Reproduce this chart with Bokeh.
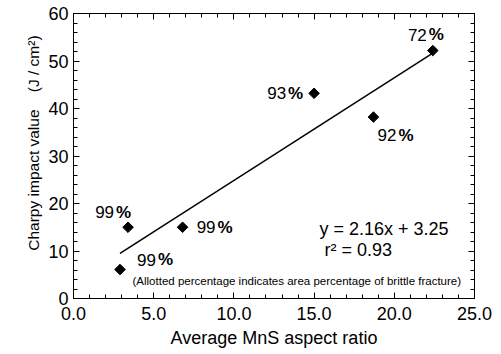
import math
from bokeh.plotting import figure
from bokeh.models import (ColumnDataSource, LinearAxis, SingleIntervalTicker,
                          NumeralTickFormatter, Range1d, Label,
                          CustomJSTickFormatter)
from bokeh.embed import file_html
from bokeh.resources import INLINE
from bokeh.core.properties import value

# ---- data ----
aspect_ratio = [2.9, 3.4, 6.8, 15.0, 18.7, 22.4]
charpy = [6.1, 15.0, 15.0, 43.2, 38.2, 52.2]
brittle_pct = ["99", "99", "99", "93", "92", "72"]
slope = 2.16
intercept = 3.25
r_squared = 0.93
x_label = "Average MnS aspect ratio"
NB = "\u00a0"
y_label = NB * 6 + "Charpy impact value" + NB * 4 + "(J / cm\u00b2)"
note = "(Allotted percentage indicates area percentage of brittle fracture)"

# label placement (pixels, styling only)
lab_dx = [36, -14, 33, -28, 23, -6]
lab_dy = [-10, -15, 0, 0, 18, -16]

FONT = "Liberation Sans"

p = figure(width=501, height=354, output_backend="svg", toolbar_location=None,
           x_range=Range1d(0, 25), y_range=Range1d(0, 60),
           min_border_left=73, min_border_right=27, min_border_top=13,
           min_border_bottom=56, background_fill_color="white",
           border_fill_color="white")
p.grid.visible = False
p.outline_line_color = "black"
p.outline_line_width = 1

def style(ax, ticker):
    ax.ticker = ticker
    ax.major_tick_in = 6
    ax.major_tick_out = 0
    ax.minor_tick_in = 4
    ax.minor_tick_out = 0
    ax.axis_line_color = "black"
    ax.major_tick_line_color = "black"
    ax.minor_tick_line_color = "black"
    ax.major_label_text_font = FONT
    ax.major_label_text_font_size = "18px"
    ax.major_label_text_color = "black"
    ax.axis_label_text_font = FONT
    ax.axis_label_text_font_style = "normal"
    ax.axis_label_text_color = "black"

xa = p.xaxis[0]
ya = p.yaxis[0]
style(xa, SingleIntervalTicker(interval=5, num_minor_ticks=5))
style(ya, SingleIntervalTicker(interval=10, num_minor_ticks=5))
xa.formatter = NumeralTickFormatter(format="0.0")
xa.axis_label = x_label
xa.axis_label_text_font_size = "18px"
xa.major_label_standoff = 8
xa.axis_label_standoff = 5
ya.axis_label = y_label
ya.axis_label_text_font_size = "15.5px"
ya.major_label_standoff = 5
ya.axis_label_standoff = 3

# mirrored tick axes on top and right, without labels
top = LinearAxis()
right = LinearAxis()
style(top, SingleIntervalTicker(interval=5, num_minor_ticks=5))
style(right, SingleIntervalTicker(interval=10, num_minor_ticks=5))
for a in (top, right):
    a.formatter = CustomJSTickFormatter(code="return ''")
    a.major_label_standoff = 0
p.add_layout(top, "above")
p.add_layout(right, "right")

# regression line
x0, x1 = min(aspect_ratio), max(aspect_ratio)
p.line([x0, x1], [slope * x0 + intercept, slope * x1 + intercept],
       line_color="black", line_width=1.5)

src = ColumnDataSource(dict(x=aspect_ratio, y=charpy, num=brittle_pct,
                            pc=["%"] * len(brittle_pct),
                            dx=lab_dx, dy=lab_dy,
                            dx2=[d + 2 for d in lab_dx]))
p.scatter("x", "y", source=src, marker="square", size=7.5,
          angle=math.pi / 4, fill_color="black", line_color="black")

p.text("x", "y", text="num", source=src, x_offset="dx", y_offset="dy",
       text_align="right", text_baseline="middle",
       text_font=value(FONT), text_font_size="17px", text_color="black")
p.text("x", "y", text="pc", source=src, x_offset="dx2", y_offset="dy",
       text_align="left", text_baseline="middle",
       text_font=value(FONT), text_font_size="17px", text_font_style="bold",
       text_color="black")

# annotation labels (screen units are relative to the plot frame)
eq = f"y = {slope:.2f}x + {intercept:.2f}"
p.add_layout(Label(x=246, y=70, x_units="screen", y_units="screen",
                   text=eq, text_font=FONT, text_font_size="18px",
                   text_baseline="middle", text_color="black"))
p.add_layout(Label(x=251, y=49, x_units="screen", y_units="screen",
                   text=f"r\u00b2 = {r_squared:.2f}", text_font=FONT,
                   text_font_size="18px", text_baseline="middle",
                   text_color="black"))
p.add_layout(Label(x=59, y=18, x_units="screen", y_units="screen",
                   text=note, text_font=FONT, text_font_size="11.5px",
                   text_baseline="middle", text_color="black"))

open("out.html", "w").write(file_html(p, INLINE))
